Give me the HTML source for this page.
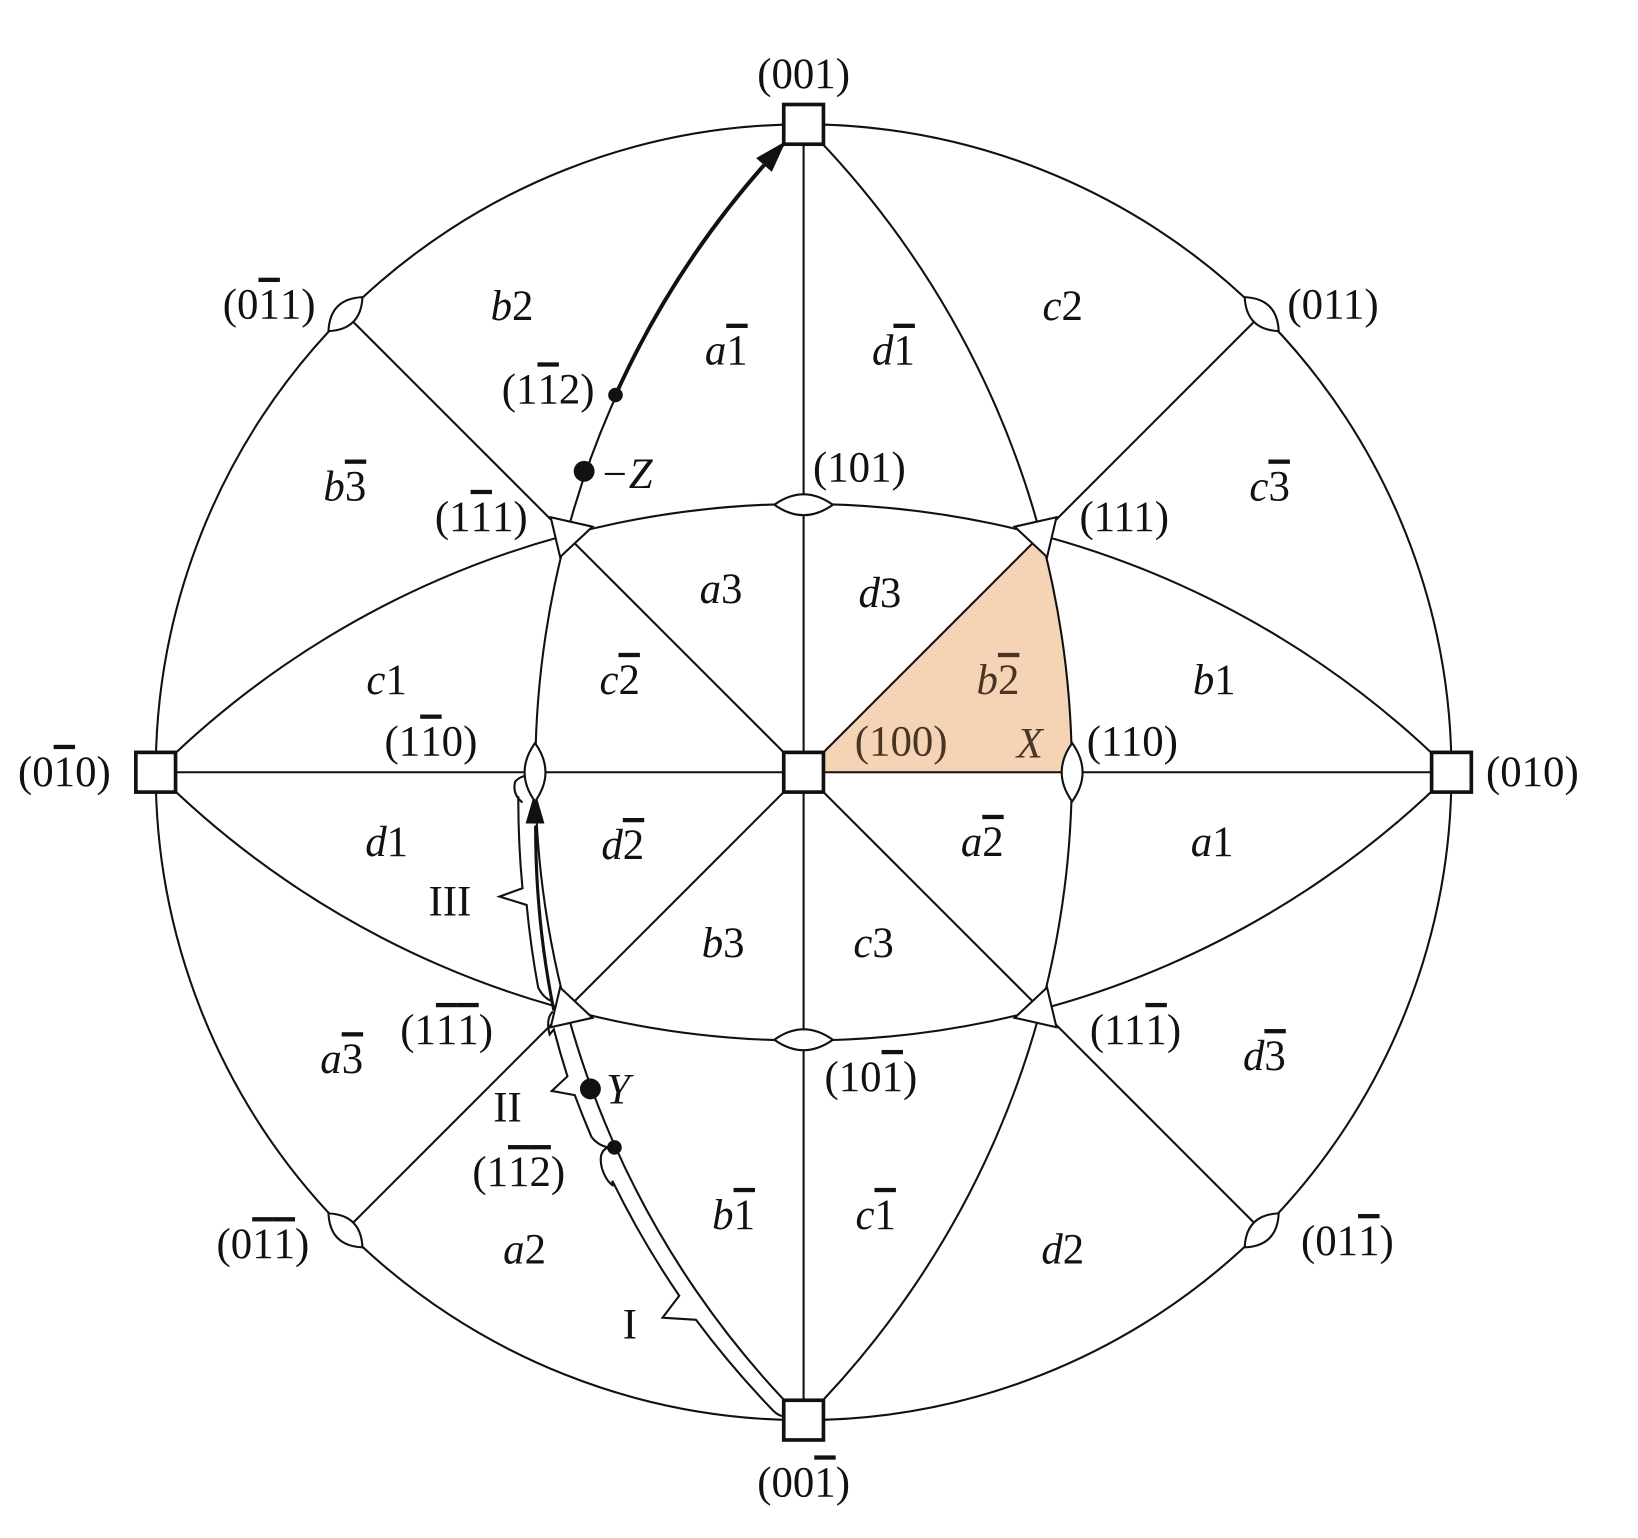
<!DOCTYPE html>
<html><head><meta charset="utf-8">
<style>
html,body{margin:0;padding:0;background:#fff;}
svg{display:block;}
text{font-family:"Liberation Serif","Times New Roman",serif;font-size:41px;fill:#111;}
.i{font-style:italic;}
.o{text-decoration:overline;}
</style></head>
<body>
<svg width="1638" height="1538" viewBox="0 0 1567.5 1471.8" xmlns="http://www.w3.org/2000/svg" font-family="Liberation Serif, serif">
<rect width="1568" height="1472" fill="#fff"/>
<path d="M769 739 L997 511 A877 877 0 0 1 1026 739 Z" fill="#f5d4b6"/>
<g fill="none" stroke="#111" stroke-width="2">
<circle cx="769" cy="739" r="620"/>
<line x1="149" y1="739" x2="1389" y2="739"/>
<line x1="769" y1="119" x2="769" y2="1359"/>
<line x1="330.6" y1="300.6" x2="1207.4" y2="1177.4"/>
<line x1="1207.4" y1="300.6" x2="330.6" y2="1177.4"/>
<path d="M149 739 A877 877 0 0 1 1389 739"/>
<path d="M149 739 A877 877 0 0 0 1389 739"/>
<path d="M769 119 A877 877 0 0 1 769 1359"/>
<path d="M769 119 A877 877 0 0 0 769 1359"/>
</g>
<path d="M589 378 A877 877 0 0 1 731 158" fill="none" stroke="#111" stroke-width="3.5"/>
<polygon points="752,135 738.6,164.5 723.6,151.3" fill="#111"/>
<path d="M530 967 A877 877 0 0 1 512.6 790" fill="none" stroke="#111" stroke-width="3"/>
<polygon points="512,757 503,788 521,788" fill="#111"/>
<g fill="none" stroke="#111" stroke-width="2">
<path d="M582 1098 Q572 1102 576 1118 Q580 1130 586 1134 L586 1130 A892 892 0 0 0 650 1240 L634 1261 L666 1263 A892 892 0 0 0 740 1350 Q746 1356 752 1355"/>
<path d="M529 968 Q522 975 526 990 L530 985 A892 892 0 0 0 543 1030 L528 1044 L550 1048 A892 892 0 0 0 566 1088 Q572 1096 582 1098"/>
<path d="M500 768 Q490 760 493 748 Q498 742 508 742 M496 762 A892 892 0 0 0 500 850 L478 858 L504 866 A892 892 0 0 0 515 945 Q520 955 528 958"/>
</g>
<g fill="#fff" stroke="#111" stroke-width="3.5">
<rect x="750" y="100" width="38" height="38"/>
<rect x="750" y="1340" width="38" height="38"/>
<rect x="130" y="720" width="38" height="38"/>
<rect x="1370" y="720" width="38" height="38"/>
<rect x="750" y="720" width="38" height="38"/>
</g>
<g fill="#fff" stroke="#111" stroke-width="2">
<path d="M741 483 Q769 463 797 483 Q769 503 741 483Z"/>
<path d="M741 995 Q769 975 797 995 Q769 1015 741 995Z"/>
<path d="M1026 711 Q1046 739 1026 767 Q1006 739 1026 711Z"/>
<path d="M512 711 Q532 739 512 767 Q492 739 512 711Z"/>
<g transform="translate(330.6 300.6) rotate(-45)"><path d="M-23 0 Q0 -21 23 0 Q0 21 -23 0Z"/></g>
<g transform="translate(1207.4 300.6) rotate(45)"><path d="M-23 0 Q0 -21 23 0 Q0 21 -23 0Z"/></g>
<g transform="translate(330.6 1177.4) rotate(45)"><path d="M-23 0 Q0 -21 23 0 Q0 21 -23 0Z"/></g>
<g transform="translate(1207.4 1177.4) rotate(-45)"><path d="M-23 0 Q0 -21 23 0 Q0 21 -23 0Z"/></g>
<polygon points="971,504 1011,495 1002,533"/>
<polygon points="567,504 527,495 536,533"/>
<polygon points="971,974 1011,983 1002,945"/>
<polygon points="567,974 527,983 536,945"/>
</g>
<g fill="#111">
<circle cx="589" cy="378" r="7"/>
<circle cx="559" cy="451" r="10"/>
<circle cx="565" cy="1042" r="10"/>
<circle cx="588" cy="1098" r="7"/>
</g>
<text x="769" y="84" text-anchor="middle">(001)</text>
<text x="769" y="1432" text-anchor="middle">(00<tspan class="o">1</tspan>)</text>
<text x="106" y="752" text-anchor="end">(0<tspan class="o">1</tspan>0)</text>
<text x="1422" y="752">(010)</text>
<text x="302" y="305" text-anchor="end">(0<tspan class="o">1</tspan>1)</text>
<text x="1232" y="305">(011)</text>
<text x="296" y="1204" text-anchor="end">(0<tspan class="o">1</tspan><tspan class="o">1</tspan>)</text>
<text x="1245" y="1201">(01<tspan class="o">1</tspan>)</text>
<text x="778" y="461">(101)</text>
<text x="505" y="508" text-anchor="end">(1<tspan class="o">1</tspan>1)</text>
<text x="1033" y="508">(111)</text>
<text x="569" y="386" text-anchor="end">(1<tspan class="o">1</tspan>2)</text>
<text x="574" y="467" class="i">−Z</text>
<text x="368" y="723">(1<tspan class="o">1</tspan>0)</text>
<text x="818" y="723" style="fill:#4a3525">(100)</text>
<text x="973" y="725" class="i" style="fill:#4a3525">X</text>
<text x="1040" y="723">(110)</text>
<text x="383" y="999">(1<tspan class="o">1</tspan><tspan class="o">1</tspan>)</text>
<text x="1043" y="999">(11<tspan class="o">1</tspan>)</text>
<text x="789" y="1044">(10<tspan class="o">1</tspan>)</text>
<text x="580" y="1056" class="i">Y</text>
<text x="472" y="1073">II</text>
<text x="452" y="1135">(1<tspan class="o">1</tspan><tspan class="o">2</tspan>)</text>
<text x="410" y="876">III</text>
<text x="596" y="1281">I</text>
<g text-anchor="middle">
<text x="490" y="306"><tspan class="i">b</tspan>2</text>
<text x="695" y="349"><tspan class="i">a</tspan><tspan class="o">1</tspan></text>
<text x="855" y="349"><tspan class="i">d</tspan><tspan class="o">1</tspan></text>
<text x="1017" y="306"><tspan class="i">c</tspan>2</text>
<text x="330" y="479"><tspan class="i">b</tspan><tspan class="o">3</tspan></text>
<text x="1215" y="479"><tspan class="i">c</tspan><tspan class="o">3</tspan></text>
<text x="690" y="577"><tspan class="i">a</tspan>3</text>
<text x="842" y="581"><tspan class="i">d</tspan>3</text>
<text x="370" y="664"><tspan class="i">c</tspan>1</text>
<text x="593" y="664"><tspan class="i">c</tspan><tspan class="o">2</tspan></text>
<text x="955" y="664" style="fill:#4a3525"><tspan class="i">b</tspan><tspan class="o">2</tspan></text>
<text x="1162" y="664"><tspan class="i">b</tspan>1</text>
<text x="370" y="819"><tspan class="i">d</tspan>1</text>
<text x="596" y="822"><tspan class="i">d</tspan><tspan class="o">2</tspan></text>
<text x="940" y="819"><tspan class="i">a</tspan><tspan class="o">2</tspan></text>
<text x="1160" y="819"><tspan class="i">a</tspan>1</text>
<text x="692" y="916"><tspan class="i">b</tspan>3</text>
<text x="836" y="916"><tspan class="i">c</tspan>3</text>
<text x="327" y="1027"><tspan class="i">a</tspan><tspan class="o">3</tspan></text>
<text x="1210" y="1024"><tspan class="i">d</tspan><tspan class="o">3</tspan></text>
<text x="702" y="1176"><tspan class="i">b</tspan><tspan class="o">1</tspan></text>
<text x="838" y="1176"><tspan class="i">c</tspan><tspan class="o">1</tspan></text>
<text x="502" y="1209"><tspan class="i">a</tspan>2</text>
<text x="1017" y="1209"><tspan class="i">d</tspan>2</text>
</g>
</svg>
</body></html>
